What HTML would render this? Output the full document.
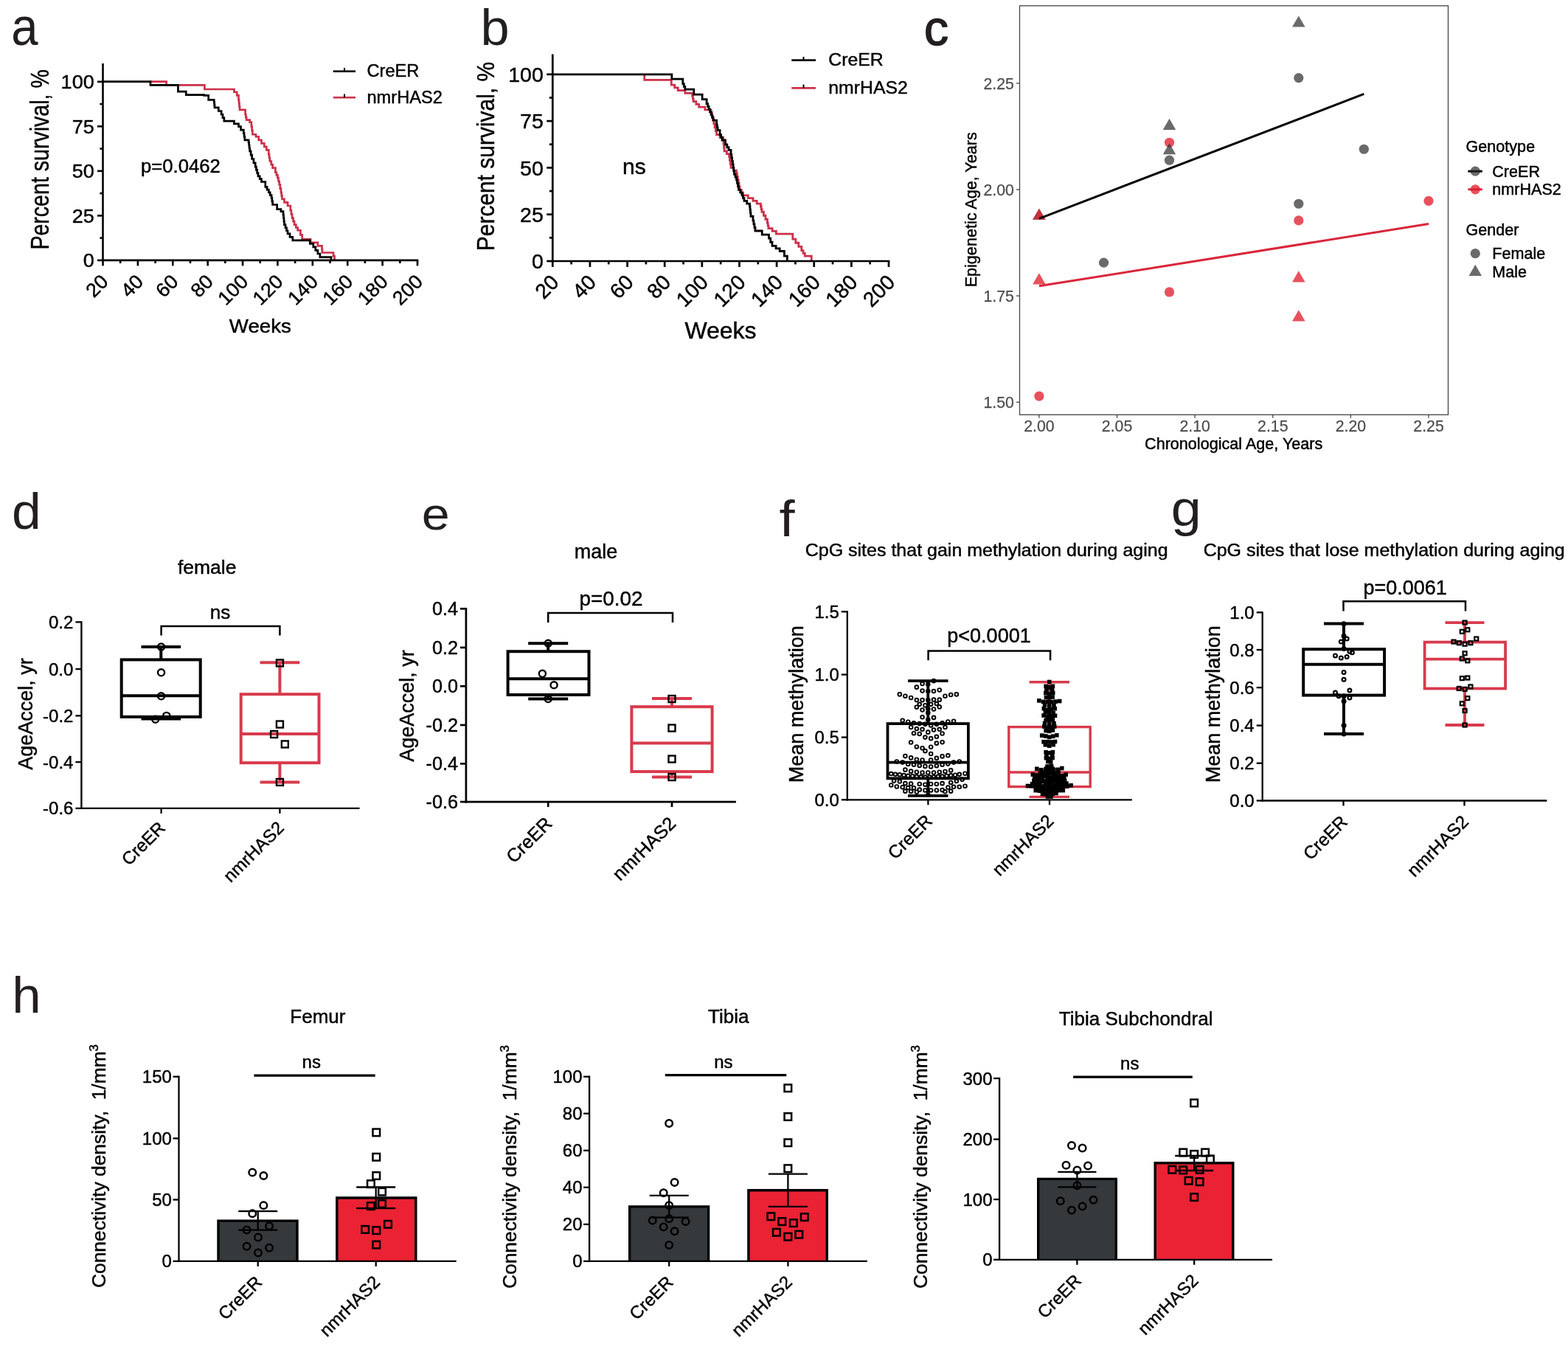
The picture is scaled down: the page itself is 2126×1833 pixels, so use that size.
<!DOCTYPE html>
<html lang="en">
<head>
<meta charset="utf-8">
<title>Figure: nmrHAS2 survival, epigenetic age and bone connectivity</title>
<style>
html,body{margin:0;padding:0;background:#fff;}
body{width:2126px;height:1833px;overflow:hidden;}
svg{display:block;font-family:"Liberation Sans",Arial,Helvetica,sans-serif;}
</style>
</head>
<body>
<svg width="2126" height="1833" viewBox="0 0 2126 1833">
<rect width="2126" height="1833" fill="#fff"/>
<text transform="translate(15.2 61.2) scale(0.915 1)" font-size="71.4" fill="#231f20">a</text>
<g fill="none" stroke-width="2.7" stroke-linejoin="miter">
<path d="M203.96 110.72H225.61V110.72H225.61V115.38H277.39V115.38H277.39V120.99H315.94V120.99H317.45V124.77H321.23V129.31H323.5V135.36H324.01V139.89H324.51V144.43H325.01V148.97H331.06V148.97H332.57V155.01H333.33V158.79H334.09V162.57H338.62V165.6H340.89V171.64H341.64V176.94H342.4V182.23H346.94V185.25H350.72V189.79H354.5V194.32H358.28V198.86H361.3V203.4H364.32V209.44H365.08V213.98H365.84V218.52H367.73V223.05H369.62V227.59H373.4V233.63H374.91V237.41H376.42V241.19H377.55V245.73H378.69V250.27H379.82V255.56H380.96V260.85H381.71V265.39H382.47V269.92H385.49V274.46H390.03V278.99H393.81V285.04H394.94V290.33H396.07V295.62H397.59V300.16H399.1V304.7H401.37V308.48H403.63V312.26H407.41V318.3H409.68V324.35H418.75V324.35H421.02V328.89H429.34V328.89H430.85V333.42H436.14V333.42H436.52V337.96H436.9V342.49H450.5V342.49H452.02V347.03H453.53V352.78" stroke="#cc304a"/>
<path d="M139.53 110.72H203.96V110.72H203.96V115.38H241.43V115.38H241.43V124.04H252.25V124.04H252.25V128.54H276.56V128.54H276.56V129.37H282.68V135.36H290.24V138.38H290.62V142.16H290.99V145.94H296.29V150.48H300.07V155.01H301.96V159.55H303.85V164.09H316.7V164.09H317.45V167.87H323.5V171.64H326.53V176.18H330.31V180.72H331.06V185.25H331.82V189.79H337.11V192.81H337.61V196.84H338.12V200.88H338.62V204.91H340.13V210.2H341.64V215.49H343.91V220.78H346.18V226.07H347.44V230.36H348.7V234.64H349.96V238.93H352.23V242.71H354.5V246.49H359.79V253.29H362.06V257.07H364.32V260.85H366.21V264.63H368.1V268.41H368.86V272.95H369.62V277.48H375.66V283.53H380.96V286.55H383.98V291.09H384.48V295.62H384.99V300.16H385.49V304.7H387V308.73H388.52V312.76H390.03V316.79H393.05V321.33H396.83V325.86H417.24V325.86H420.27V330.4H424.8V334.93H427.83V339.47H430.85V344.01H433.87V348.54H448.99V348.54H448.99V352.78" stroke="#000"/>
</g>
<line x1="139.5" y1="86" x2="139.5" y2="354.2" stroke="#000" stroke-width="2.6"/>
<line x1="138.2" y1="352.9" x2="567.3" y2="352.9" stroke="#000" stroke-width="2.6"/>
<line x1="132" y1="352.9" x2="139.5" y2="352.9" stroke="#000" stroke-width="2.6"/>
<line x1="135.38" y1="322.64" x2="139.5" y2="322.64" stroke="#000" stroke-width="2.6"/>
<line x1="132" y1="292.38" x2="139.5" y2="292.38" stroke="#000" stroke-width="2.6"/>
<line x1="135.38" y1="262.11" x2="139.5" y2="262.11" stroke="#000" stroke-width="2.6"/>
<line x1="132" y1="231.85" x2="139.5" y2="231.85" stroke="#000" stroke-width="2.6"/>
<line x1="135.38" y1="201.59" x2="139.5" y2="201.59" stroke="#000" stroke-width="2.6"/>
<line x1="132" y1="171.33" x2="139.5" y2="171.33" stroke="#000" stroke-width="2.6"/>
<line x1="135.38" y1="141.06" x2="139.5" y2="141.06" stroke="#000" stroke-width="2.6"/>
<line x1="132" y1="110.8" x2="139.5" y2="110.8" stroke="#000" stroke-width="2.6"/>
<text transform="translate(127.7 362.39) scale(1.020 1)" font-size="26.5" text-anchor="end" stroke="#000" stroke-width="0.45">0</text>
<text transform="translate(127.7 301.86) scale(1.020 1)" font-size="26.5" text-anchor="end" stroke="#000" stroke-width="0.45">25</text>
<text transform="translate(127.7 241.34) scale(1.020 1)" font-size="26.5" text-anchor="end" stroke="#000" stroke-width="0.45">50</text>
<text transform="translate(127.7 180.81) scale(1.020 1)" font-size="26.5" text-anchor="end" stroke="#000" stroke-width="0.45">75</text>
<text transform="translate(127.7 120.29) scale(1.020 1)" font-size="26.5" text-anchor="end" stroke="#000" stroke-width="0.45">100</text>
<line x1="139.5" y1="352.9" x2="139.5" y2="360.4" stroke="#000" stroke-width="2.6"/>
<text transform="translate(148.5 383.4) rotate(-45) scale(1.020 1)" font-size="26.5" text-anchor="end" stroke="#000" stroke-width="0.45">20</text>
<line x1="163.19" y1="352.9" x2="163.19" y2="357.02" stroke="#000" stroke-width="2.6"/>
<line x1="186.89" y1="352.9" x2="186.89" y2="360.4" stroke="#000" stroke-width="2.6"/>
<text transform="translate(195.89 383.4) rotate(-45) scale(1.020 1)" font-size="26.5" text-anchor="end" stroke="#000" stroke-width="0.45">40</text>
<line x1="210.58" y1="352.9" x2="210.58" y2="357.02" stroke="#000" stroke-width="2.6"/>
<line x1="234.28" y1="352.9" x2="234.28" y2="360.4" stroke="#000" stroke-width="2.6"/>
<text transform="translate(243.28 383.4) rotate(-45) scale(1.020 1)" font-size="26.5" text-anchor="end" stroke="#000" stroke-width="0.45">60</text>
<line x1="257.97" y1="352.9" x2="257.97" y2="357.02" stroke="#000" stroke-width="2.6"/>
<line x1="281.67" y1="352.9" x2="281.67" y2="360.4" stroke="#000" stroke-width="2.6"/>
<text transform="translate(290.67 383.4) rotate(-45) scale(1.020 1)" font-size="26.5" text-anchor="end" stroke="#000" stroke-width="0.45">80</text>
<line x1="305.36" y1="352.9" x2="305.36" y2="357.02" stroke="#000" stroke-width="2.6"/>
<line x1="329.06" y1="352.9" x2="329.06" y2="360.4" stroke="#000" stroke-width="2.6"/>
<text transform="translate(338.06 383.4) rotate(-45) scale(1.020 1)" font-size="26.5" text-anchor="end" stroke="#000" stroke-width="0.45">100</text>
<line x1="352.75" y1="352.9" x2="352.75" y2="357.02" stroke="#000" stroke-width="2.6"/>
<line x1="376.44" y1="352.9" x2="376.44" y2="360.4" stroke="#000" stroke-width="2.6"/>
<text transform="translate(385.44 383.4) rotate(-45) scale(1.020 1)" font-size="26.5" text-anchor="end" stroke="#000" stroke-width="0.45">120</text>
<line x1="400.14" y1="352.9" x2="400.14" y2="357.02" stroke="#000" stroke-width="2.6"/>
<line x1="423.83" y1="352.9" x2="423.83" y2="360.4" stroke="#000" stroke-width="2.6"/>
<text transform="translate(432.83 383.4) rotate(-45) scale(1.020 1)" font-size="26.5" text-anchor="end" stroke="#000" stroke-width="0.45">140</text>
<line x1="447.53" y1="352.9" x2="447.53" y2="357.02" stroke="#000" stroke-width="2.6"/>
<line x1="471.22" y1="352.9" x2="471.22" y2="360.4" stroke="#000" stroke-width="2.6"/>
<text transform="translate(480.22 383.4) rotate(-45) scale(1.020 1)" font-size="26.5" text-anchor="end" stroke="#000" stroke-width="0.45">160</text>
<line x1="494.92" y1="352.9" x2="494.92" y2="357.02" stroke="#000" stroke-width="2.6"/>
<line x1="518.61" y1="352.9" x2="518.61" y2="360.4" stroke="#000" stroke-width="2.6"/>
<text transform="translate(527.61 383.4) rotate(-45) scale(1.020 1)" font-size="26.5" text-anchor="end" stroke="#000" stroke-width="0.45">180</text>
<line x1="542.31" y1="352.9" x2="542.31" y2="357.02" stroke="#000" stroke-width="2.6"/>
<line x1="566" y1="352.9" x2="566" y2="360.4" stroke="#000" stroke-width="2.6"/>
<text transform="translate(575 383.4) rotate(-45) scale(1.020 1)" font-size="26.5" text-anchor="end" stroke="#000" stroke-width="0.45">200</text>
<text transform="translate(66.1 216.4) rotate(-90) scale(0.828 1)" font-size="34.5" text-anchor="middle" stroke="#000" stroke-width="0.45">Percent survival, %</text>
<text transform="translate(352.8 450.9) scale(1.072 1)" font-size="25.8" text-anchor="middle" stroke="#000" stroke-width="0.45">Weeks</text>
<text transform="translate(191 233.8)" font-size="25.7" stroke="#000" stroke-width="0.45">p=0.0462</text>
<line x1="451.7" y1="96.7" x2="482" y2="96.7" stroke="#000" stroke-width="2.6"/>
<line x1="467" y1="96.7" x2="467" y2="92" stroke="#000" stroke-width="2"/>
<text transform="translate(497.5 103.9)" font-size="23.6" stroke="#000" stroke-width="0.45">CreER</text>
<line x1="451.7" y1="132.2" x2="482" y2="132.2" stroke="#cc304a" stroke-width="2.6"/>
<line x1="467" y1="132.2" x2="467" y2="127.5" stroke="#000" stroke-width="2"/>
<text transform="translate(497.5 139.9)" font-size="23.6" stroke="#000" stroke-width="0.45">nmrHAS2</text>
<text transform="translate(651.4 61.4) scale(1.020 1)" font-size="69" fill="#231f20">b</text>
<g fill="none" stroke-width="2.8" stroke-linejoin="miter">
<path d="M873.74 100.84H873.74V108.32H910.25V115.2H914.73V118.94H919.22V122.68H928.95V126.42H938.67V130.16H939.42V133.9H940.17V137.64H943.91V141.38H947.65V145.12H955.88V148.86H964.11V152.6H965.35V157.59H966.6V162.58H967.85V167.56H969.09V172.55H970.34V177.54H971.59V182.53H976.07V186.27H980.56V190.01H981.06V194.99H981.56V199.98H982.06V204.97H985.35V208.71H988.64V212.45H989.44V217.43H990.24V222.42H991.04V227.41H994.78V231.15H998.52V234.89H999.41V239.38H1000.31V243.87H1001.21V248.35H1002.11V252.84H1003V257.33H1005.25V261.07H1007.49V264.81H1014.23V268.55H1020.96V272.29H1026.19V276.03H1031.43V279.77H1032.18V283.51H1032.93V287.25H1035.42V292.24H1037.91V297.23H1040.41V302.21H1041.15V305.95H1041.9V309.69H1047.14V313.44H1052.38V317.18H1074.82V324.06H1078.81V329.24H1082.8V334.43H1086.79V339.62H1089.03V343.36H1091.27V347.1H1100.25V353.98" stroke="#cc304a"/>
<path d="M749.26 100.84H910.84V107.12H925.8V113.7H927.3V117.44H928.8V121.18H940.77V128.07H952.14V134.65H958.12V140.63H959.62V144.37H961.11V148.11H962.61V151.86H964.11V155.6H965.6V159.34H967.1V163.08H971.59V169.06H972.33V172.8H973.08V176.54H976.07V182.53H977.57V186.27H979.07V190.01H983.55V195.99H985.8V199.73H988.04V203.47H991.04V209.46H991.83V213.94H992.63V218.43H993.43V222.92H994.13V227.41H994.83V231.9H995.52V236.39H997.02V240.13H998.52V243.87H999.51V248.35H1000.51V252.84H1001.51V257.33H1003.75V261.07H1006V264.81H1007.49V268.55H1008.99V272.29H1012.73V276.03H1016.47V279.77H1016.97V284.26H1017.47V288.75H1017.97V293.24H1020.96V299.22H1021.95V303.81H1022.95V308.4H1023.95V312.99H1033.23V318.07H1042.5V323.16H1044.75V328.25H1046.99V333.33H1052.08V336.92H1057.16V340.51H1063.45V347.1H1067.34V353.98" stroke="#000"/>
</g>
<line x1="749.3" y1="73.5" x2="749.3" y2="355.35" stroke="#000" stroke-width="2.7"/>
<line x1="747.95" y1="354" x2="1206.35" y2="354" stroke="#000" stroke-width="2.7"/>
<line x1="741.3" y1="354" x2="749.3" y2="354" stroke="#000" stroke-width="2.7"/>
<line x1="744.9" y1="322.35" x2="749.3" y2="322.35" stroke="#000" stroke-width="2.7"/>
<line x1="741.3" y1="290.7" x2="749.3" y2="290.7" stroke="#000" stroke-width="2.7"/>
<line x1="744.9" y1="259.05" x2="749.3" y2="259.05" stroke="#000" stroke-width="2.7"/>
<line x1="741.3" y1="227.4" x2="749.3" y2="227.4" stroke="#000" stroke-width="2.7"/>
<line x1="744.9" y1="195.75" x2="749.3" y2="195.75" stroke="#000" stroke-width="2.7"/>
<line x1="741.3" y1="164.1" x2="749.3" y2="164.1" stroke="#000" stroke-width="2.7"/>
<line x1="744.9" y1="132.45" x2="749.3" y2="132.45" stroke="#000" stroke-width="2.7"/>
<line x1="741.3" y1="100.8" x2="749.3" y2="100.8" stroke="#000" stroke-width="2.7"/>
<text transform="translate(736.8 364.2)" font-size="28.5" text-anchor="end" stroke="#000" stroke-width="0.45">0</text>
<text transform="translate(736.8 300.9)" font-size="28.5" text-anchor="end" stroke="#000" stroke-width="0.45">25</text>
<text transform="translate(736.8 237.6)" font-size="28.5" text-anchor="end" stroke="#000" stroke-width="0.45">50</text>
<text transform="translate(736.8 174.3)" font-size="28.5" text-anchor="end" stroke="#000" stroke-width="0.45">75</text>
<text transform="translate(736.8 111)" font-size="28.5" text-anchor="end" stroke="#000" stroke-width="0.45">100</text>
<line x1="749.3" y1="354" x2="749.3" y2="362" stroke="#000" stroke-width="2.7"/>
<text transform="translate(759.3 384.5) rotate(-45)" font-size="28.2" text-anchor="end" stroke="#000" stroke-width="0.45">20</text>
<line x1="774.62" y1="354" x2="774.62" y2="358.4" stroke="#000" stroke-width="2.7"/>
<line x1="799.93" y1="354" x2="799.93" y2="362" stroke="#000" stroke-width="2.7"/>
<text transform="translate(809.93 384.5) rotate(-45)" font-size="28.2" text-anchor="end" stroke="#000" stroke-width="0.45">40</text>
<line x1="825.25" y1="354" x2="825.25" y2="358.4" stroke="#000" stroke-width="2.7"/>
<line x1="850.57" y1="354" x2="850.57" y2="362" stroke="#000" stroke-width="2.7"/>
<text transform="translate(860.57 384.5) rotate(-45)" font-size="28.2" text-anchor="end" stroke="#000" stroke-width="0.45">60</text>
<line x1="875.88" y1="354" x2="875.88" y2="358.4" stroke="#000" stroke-width="2.7"/>
<line x1="901.2" y1="354" x2="901.2" y2="362" stroke="#000" stroke-width="2.7"/>
<text transform="translate(911.2 384.5) rotate(-45)" font-size="28.2" text-anchor="end" stroke="#000" stroke-width="0.45">80</text>
<line x1="926.52" y1="354" x2="926.52" y2="358.4" stroke="#000" stroke-width="2.7"/>
<line x1="951.83" y1="354" x2="951.83" y2="362" stroke="#000" stroke-width="2.7"/>
<text transform="translate(961.83 384.5) rotate(-45)" font-size="28.2" text-anchor="end" stroke="#000" stroke-width="0.45">100</text>
<line x1="977.15" y1="354" x2="977.15" y2="358.4" stroke="#000" stroke-width="2.7"/>
<line x1="1002.47" y1="354" x2="1002.47" y2="362" stroke="#000" stroke-width="2.7"/>
<text transform="translate(1012.47 384.5) rotate(-45)" font-size="28.2" text-anchor="end" stroke="#000" stroke-width="0.45">120</text>
<line x1="1027.78" y1="354" x2="1027.78" y2="358.4" stroke="#000" stroke-width="2.7"/>
<line x1="1053.1" y1="354" x2="1053.1" y2="362" stroke="#000" stroke-width="2.7"/>
<text transform="translate(1063.1 384.5) rotate(-45)" font-size="28.2" text-anchor="end" stroke="#000" stroke-width="0.45">140</text>
<line x1="1078.42" y1="354" x2="1078.42" y2="358.4" stroke="#000" stroke-width="2.7"/>
<line x1="1103.73" y1="354" x2="1103.73" y2="362" stroke="#000" stroke-width="2.7"/>
<text transform="translate(1113.73 384.5) rotate(-45)" font-size="28.2" text-anchor="end" stroke="#000" stroke-width="0.45">160</text>
<line x1="1129.05" y1="354" x2="1129.05" y2="358.4" stroke="#000" stroke-width="2.7"/>
<line x1="1154.37" y1="354" x2="1154.37" y2="362" stroke="#000" stroke-width="2.7"/>
<text transform="translate(1164.37 384.5) rotate(-45)" font-size="28.2" text-anchor="end" stroke="#000" stroke-width="0.45">180</text>
<line x1="1179.68" y1="354" x2="1179.68" y2="358.4" stroke="#000" stroke-width="2.7"/>
<line x1="1205" y1="354" x2="1205" y2="362" stroke="#000" stroke-width="2.7"/>
<text transform="translate(1215 384.5) rotate(-45)" font-size="28.2" text-anchor="end" stroke="#000" stroke-width="0.45">200</text>
<text transform="translate(669.8 212) rotate(-90) scale(0.897 1)" font-size="33.4" text-anchor="middle" stroke="#000" stroke-width="0.45">Percent survival, %</text>
<text transform="translate(977 459.3)" font-size="32" text-anchor="middle" stroke="#000" stroke-width="0.45">Weeks</text>
<text transform="translate(844 236.4)" font-size="30" stroke="#000" stroke-width="0.45">ns</text>
<line x1="1073.3" y1="81.7" x2="1106" y2="81.7" stroke="#000" stroke-width="2.7"/>
<line x1="1089.5" y1="81.7" x2="1089.5" y2="77" stroke="#000" stroke-width="2"/>
<text transform="translate(1123.3 89.1)" font-size="24.8" stroke="#000" stroke-width="0.45">CreER</text>
<line x1="1073.3" y1="119.4" x2="1106" y2="119.4" stroke="#cc304a" stroke-width="2.7"/>
<line x1="1089.5" y1="119.4" x2="1089.5" y2="114.6" stroke="#000" stroke-width="2"/>
<text transform="translate(1123.3 126.5)" font-size="24.8" stroke="#000" stroke-width="0.45">nmrHAS2</text>
<text transform="translate(1253 60.5)" font-size="66" fill="#231f20" stroke="#231f20" stroke-width="1.5" stroke-linejoin="round">c</text>
<line x1="1408.9" y1="562.3" x2="1408.9" y2="566.8" stroke="#333" stroke-width="1.2"/>
<text transform="translate(1408.9 585.1)" font-size="21.3" text-anchor="middle" fill="#4d4d4d" stroke="#4d4d4d" stroke-width="0.25">2.00</text>
<line x1="1514.52" y1="562.3" x2="1514.52" y2="566.8" stroke="#333" stroke-width="1.2"/>
<text transform="translate(1514.52 585.1)" font-size="21.3" text-anchor="middle" fill="#4d4d4d" stroke="#4d4d4d" stroke-width="0.25">2.05</text>
<line x1="1620.14" y1="562.3" x2="1620.14" y2="566.8" stroke="#333" stroke-width="1.2"/>
<text transform="translate(1620.14 585.1)" font-size="21.3" text-anchor="middle" fill="#4d4d4d" stroke="#4d4d4d" stroke-width="0.25">2.10</text>
<line x1="1725.76" y1="562.3" x2="1725.76" y2="566.8" stroke="#333" stroke-width="1.2"/>
<text transform="translate(1725.76 585.1)" font-size="21.3" text-anchor="middle" fill="#4d4d4d" stroke="#4d4d4d" stroke-width="0.25">2.15</text>
<line x1="1831.38" y1="562.3" x2="1831.38" y2="566.8" stroke="#333" stroke-width="1.2"/>
<text transform="translate(1831.38 585.1)" font-size="21.3" text-anchor="middle" fill="#4d4d4d" stroke="#4d4d4d" stroke-width="0.25">2.20</text>
<line x1="1937" y1="562.3" x2="1937" y2="566.8" stroke="#333" stroke-width="1.2"/>
<text transform="translate(1937 585.1)" font-size="21.3" text-anchor="middle" fill="#4d4d4d" stroke="#4d4d4d" stroke-width="0.25">2.25</text>
<line x1="1378" y1="545.2" x2="1382.5" y2="545.2" stroke="#333" stroke-width="1.2"/>
<text transform="translate(1374.9 552.8)" font-size="21.3" text-anchor="end" fill="#4d4d4d" stroke="#4d4d4d" stroke-width="0.25">1.50</text>
<line x1="1378" y1="401.1" x2="1382.5" y2="401.1" stroke="#333" stroke-width="1.2"/>
<text transform="translate(1374.9 408.7)" font-size="21.3" text-anchor="end" fill="#4d4d4d" stroke="#4d4d4d" stroke-width="0.25">1.75</text>
<line x1="1378" y1="257" x2="1382.5" y2="257" stroke="#333" stroke-width="1.2"/>
<text transform="translate(1374.9 264.6)" font-size="21.3" text-anchor="end" fill="#4d4d4d" stroke="#4d4d4d" stroke-width="0.25">2.00</text>
<line x1="1378" y1="112.9" x2="1382.5" y2="112.9" stroke="#333" stroke-width="1.2"/>
<text transform="translate(1374.9 120.5)" font-size="21.3" text-anchor="end" fill="#4d4d4d" stroke="#4d4d4d" stroke-width="0.25">2.25</text>
<circle cx="1496.56" cy="356.2" r="6.6" fill="#2b2b2b" fill-opacity="0.7"/>
<circle cx="1585.51" cy="217.22" r="6.6" fill="#2b2b2b" fill-opacity="0.7"/>
<circle cx="1760.82" cy="105.62" r="6.6" fill="#2b2b2b" fill-opacity="0.7"/>
<circle cx="1760.82" cy="276.23" r="6.6" fill="#2b2b2b" fill-opacity="0.7"/>
<circle cx="1849.34" cy="202.26" r="6.6" fill="#2b2b2b" fill-opacity="0.7"/>
<circle cx="1408.9" cy="537.07" r="6.6" fill="#e0202f" fill-opacity="0.78"/>
<circle cx="1585.51" cy="193.28" r="6.6" fill="#e0202f" fill-opacity="0.78"/>
<circle cx="1585.51" cy="395.96" r="6.6" fill="#e0202f" fill-opacity="0.78"/>
<circle cx="1760.82" cy="298.9" r="6.6" fill="#e0202f" fill-opacity="0.78"/>
<circle cx="1937" cy="272.39" r="6.6" fill="#e0202f" fill-opacity="0.78"/>
<path d="M1585.51 160.79L1594.26 175.95L1576.76 175.95Z" fill="#2b2b2b" fill-opacity="0.7"/>
<path d="M1585.51 194.14L1594.26 209.3L1576.76 209.3Z" fill="#2b2b2b" fill-opacity="0.7"/>
<path d="M1760.82 21.39L1769.57 36.55L1752.07 36.55Z" fill="#2b2b2b" fill-opacity="0.7"/>
<path d="M1408.9 282.66L1417.65 297.81L1400.15 297.81Z" fill="#2b2b2b" fill-opacity="0.7"/>
<path d="M1408.9 370.32L1417.65 385.47L1400.15 385.47Z" fill="#e0202f" fill-opacity="0.78"/>
<path d="M1760.82 367.33L1769.57 382.48L1752.07 382.48Z" fill="#e0202f" fill-opacity="0.78"/>
<path d="M1760.82 420.35L1769.57 435.5L1752.07 435.5Z" fill="#e0202f" fill-opacity="0.78"/>
<path d="M1408.9 282.66L1417.65 297.81L1400.15 297.81Z" fill="#e0202f" fill-opacity="0.78"/>
<line x1="1408.9" y1="296.33" x2="1849.34" y2="127.43" stroke="#000" stroke-width="3"/>
<line x1="1408.9" y1="387.84" x2="1937" y2="303.6" stroke="#d9263b" stroke-width="3"/>
<rect x="1382.5" y="7.8" width="581" height="554.5" fill="none" stroke="#444" stroke-width="1.3"/>
<text transform="translate(1672.7 609)" font-size="21.6" text-anchor="middle" stroke="#000" stroke-width="0.45">Chronological Age, Years</text>
<text transform="translate(1324 284.3) rotate(-90)" font-size="21.6" text-anchor="middle" stroke="#000" stroke-width="0.45">Epigenetic Age, Years</text>
<text transform="translate(1987.5 206)" font-size="21.6" stroke="#000" stroke-width="0.45">Genotype</text>
<line x1="1990.4" y1="232.2" x2="2009.8" y2="232.2" stroke="#000" stroke-width="3"/>
<circle cx="2000.3" cy="232.2" r="6.6" fill="#2b2b2b" fill-opacity="0.7"/>
<text transform="translate(2023.2 239.9)" font-size="21.6" stroke="#000" stroke-width="0.45">CreER</text>
<line x1="1990.4" y1="256.8" x2="2009.8" y2="256.8" stroke="#d9263b" stroke-width="3"/>
<circle cx="2000.3" cy="256.8" r="6.6" fill="#e0202f" fill-opacity="0.78"/>
<text transform="translate(2023.2 264.4)" font-size="21.6" stroke="#000" stroke-width="0.45">nmrHAS2</text>
<text transform="translate(1987.5 318.6)" font-size="21.6" stroke="#000" stroke-width="0.45">Gender</text>
<circle cx="2000.3" cy="343.7" r="6.6" fill="#2b2b2b" fill-opacity="0.7"/>
<text transform="translate(2023.2 351.3)" font-size="21.6" stroke="#000" stroke-width="0.45">Female</text>
<path d="M2000.3 358.8L2009.05 373.96L1991.55 373.96Z" fill="#2b2b2b" fill-opacity="0.7"/>
<text transform="translate(2023.2 376.3)" font-size="21.6" stroke="#000" stroke-width="0.45">Male</text>
<text transform="translate(16 717.1) scale(1.030 1)" font-size="69.4" fill="#231f20">d</text>
<text transform="translate(280.7 777.6)" font-size="26.5" text-anchor="middle" stroke="#000" stroke-width="0.45">female</text>
<line x1="110.4" y1="842.25" x2="110.4" y2="1097.05" stroke="#000" stroke-width="2.3"/>
<line x1="109.25" y1="1095.9" x2="487.6" y2="1095.9" stroke="#000" stroke-width="2.3"/>
<line x1="102.4" y1="843.4" x2="110.4" y2="843.4" stroke="#000" stroke-width="2.3"/>
<text transform="translate(99.4 851.99)" font-size="24" text-anchor="end" stroke="#000" stroke-width="0.45">0.2</text>
<line x1="102.4" y1="907.1" x2="110.4" y2="907.1" stroke="#000" stroke-width="2.3"/>
<text transform="translate(99.4 915.69)" font-size="24" text-anchor="end" stroke="#000" stroke-width="0.45">0.0</text>
<line x1="102.4" y1="970.4" x2="110.4" y2="970.4" stroke="#000" stroke-width="2.3"/>
<text transform="translate(99.4 978.99)" font-size="24" text-anchor="end" stroke="#000" stroke-width="0.45">-0.2</text>
<line x1="102.4" y1="1033.2" x2="110.4" y2="1033.2" stroke="#000" stroke-width="2.3"/>
<text transform="translate(99.4 1041.79)" font-size="24" text-anchor="end" stroke="#000" stroke-width="0.45">-0.4</text>
<line x1="102.4" y1="1095.9" x2="110.4" y2="1095.9" stroke="#000" stroke-width="2.3"/>
<text transform="translate(99.4 1104.49)" font-size="24" text-anchor="end" stroke="#000" stroke-width="0.45">-0.6</text>
<line x1="218.6" y1="1095.9" x2="218.6" y2="1102.9" stroke="#000" stroke-width="2.3"/>
<line x1="379.4" y1="1095.9" x2="379.4" y2="1102.9" stroke="#000" stroke-width="2.3"/>
<text transform="translate(225.6 1123.9) rotate(-45)" font-size="24" text-anchor="end" stroke="#000" stroke-width="0.45">CreER</text>
<text transform="translate(386.4 1123.9) rotate(-45)" font-size="24" text-anchor="end" stroke="#000" stroke-width="0.45">nmrHAS2</text>
<line x1="218.3" y1="876.9" x2="218.3" y2="894.4" stroke="#000" stroke-width="4"/>
<line x1="218.3" y1="971.9" x2="218.3" y2="974.4" stroke="#000" stroke-width="4"/>
<line x1="191.5" y1="876.9" x2="245.1" y2="876.9" stroke="#000" stroke-width="4"/>
<line x1="191.5" y1="974.4" x2="245.1" y2="974.4" stroke="#000" stroke-width="4"/>
<rect x="164.7" y="894.4" width="107" height="77.5" fill="none" stroke="#000" stroke-width="4"/>
<line x1="164.7" y1="943.2" x2="271.7" y2="943.2" stroke="#000" stroke-width="4"/>
<line x1="379.4" y1="898.3" x2="379.4" y2="941.2" stroke="#d83a4c" stroke-width="4"/>
<line x1="379.4" y1="1034.2" x2="379.4" y2="1060.4" stroke="#d83a4c" stroke-width="4"/>
<line x1="352.6" y1="898.3" x2="406.2" y2="898.3" stroke="#d83a4c" stroke-width="4"/>
<line x1="352.6" y1="1060.4" x2="406.2" y2="1060.4" stroke="#d83a4c" stroke-width="4"/>
<rect x="326.7" y="941.2" width="105.8" height="93" fill="none" stroke="#d83a4c" stroke-width="4"/>
<line x1="326.7" y1="994.9" x2="432.5" y2="994.9" stroke="#d83a4c" stroke-width="4"/>
<circle cx="218.56" cy="877" r="4.55" fill="none" stroke="#000" stroke-width="2.4"/>
<circle cx="218.56" cy="911.8" r="4.55" fill="none" stroke="#000" stroke-width="2.4"/>
<circle cx="218.56" cy="943.79" r="4.55" fill="none" stroke="#000" stroke-width="2.4"/>
<circle cx="225.78" cy="970.44" r="4.55" fill="none" stroke="#000" stroke-width="2.4"/>
<circle cx="210.72" cy="975.15" r="4.55" fill="none" stroke="#000" stroke-width="2.4"/>
<rect x="374.93" y="894.45" width="9" height="9" fill="none" stroke="#000" stroke-width="2.4"/>
<rect x="374.93" y="977.54" width="9" height="9" fill="none" stroke="#000" stroke-width="2.4"/>
<rect x="367.09" y="991.03" width="9" height="9" fill="none" stroke="#000" stroke-width="2.4"/>
<rect x="381.83" y="1004.51" width="9" height="9" fill="none" stroke="#000" stroke-width="2.4"/>
<rect x="374.93" y="1055.94" width="9" height="9" fill="none" stroke="#000" stroke-width="2.4"/>
<path d="M218.6 861.6V849.1H379.4V861.6" fill="none" stroke="#000" stroke-width="2.5" stroke-linejoin="miter"/>
<text transform="translate(298.5 838.7)" font-size="26" text-anchor="middle" stroke="#000" stroke-width="0.45">ns</text>
<text transform="translate(43.9 968) rotate(-90)" font-size="27" text-anchor="middle" stroke="#000" stroke-width="0.45">AgeAccel, yr</text>
<text transform="translate(571.8 718) scale(1.100 1)" font-size="62" fill="#231f20">e</text>
<text transform="translate(808.1 757.2)" font-size="27" text-anchor="middle" stroke="#000" stroke-width="0.45">male</text>
<line x1="631.9" y1="823.95" x2="631.9" y2="1088.45" stroke="#000" stroke-width="2.7"/>
<line x1="630.55" y1="1087.1" x2="997.9" y2="1087.1" stroke="#000" stroke-width="2.7"/>
<line x1="623.9" y1="825.3" x2="631.9" y2="825.3" stroke="#000" stroke-width="2.7"/>
<text transform="translate(620.9 834.32)" font-size="25.2" text-anchor="end" stroke="#000" stroke-width="0.45">0.4</text>
<line x1="623.9" y1="877.9" x2="631.9" y2="877.9" stroke="#000" stroke-width="2.7"/>
<text transform="translate(620.9 886.92)" font-size="25.2" text-anchor="end" stroke="#000" stroke-width="0.45">0.2</text>
<line x1="623.9" y1="930.3" x2="631.9" y2="930.3" stroke="#000" stroke-width="2.7"/>
<text transform="translate(620.9 939.32)" font-size="25.2" text-anchor="end" stroke="#000" stroke-width="0.45">0.0</text>
<line x1="623.9" y1="983" x2="631.9" y2="983" stroke="#000" stroke-width="2.7"/>
<text transform="translate(620.9 992.02)" font-size="25.2" text-anchor="end" stroke="#000" stroke-width="0.45">-0.2</text>
<line x1="623.9" y1="1035.4" x2="631.9" y2="1035.4" stroke="#000" stroke-width="2.7"/>
<text transform="translate(620.9 1044.42)" font-size="25.2" text-anchor="end" stroke="#000" stroke-width="0.45">-0.4</text>
<line x1="623.9" y1="1087.1" x2="631.9" y2="1087.1" stroke="#000" stroke-width="2.7"/>
<text transform="translate(620.9 1096.12)" font-size="25.2" text-anchor="end" stroke="#000" stroke-width="0.45">-0.6</text>
<line x1="743.2" y1="1087.1" x2="743.2" y2="1094.1" stroke="#000" stroke-width="2.7"/>
<line x1="911" y1="1087.1" x2="911" y2="1094.1" stroke="#000" stroke-width="2.7"/>
<text transform="translate(750.2 1118.1) rotate(-45)" font-size="25.2" text-anchor="end" stroke="#000" stroke-width="0.45">CreER</text>
<text transform="translate(918 1118.1) rotate(-45)" font-size="25.2" text-anchor="end" stroke="#000" stroke-width="0.45">nmrHAS2</text>
<line x1="743.2" y1="872.3" x2="743.2" y2="883.2" stroke="#000" stroke-width="4"/>
<line x1="743.2" y1="942" x2="743.2" y2="947.6" stroke="#000" stroke-width="4"/>
<line x1="716.2" y1="872.3" x2="770.2" y2="872.3" stroke="#000" stroke-width="4"/>
<line x1="716.2" y1="947.6" x2="770.2" y2="947.6" stroke="#000" stroke-width="4"/>
<rect x="688.6" y="883.2" width="109.9" height="58.8" fill="none" stroke="#000" stroke-width="4"/>
<line x1="688.6" y1="920.3" x2="798.5" y2="920.3" stroke="#000" stroke-width="4"/>
<line x1="911" y1="946.9" x2="911" y2="958.2" stroke="#d83a4c" stroke-width="4"/>
<line x1="911" y1="1046.1" x2="911" y2="1053.5" stroke="#d83a4c" stroke-width="4"/>
<line x1="884" y1="946.9" x2="938" y2="946.9" stroke="#d83a4c" stroke-width="4"/>
<line x1="884" y1="1053.5" x2="938" y2="1053.5" stroke="#d83a4c" stroke-width="4"/>
<rect x="856.4" y="958.2" width="109.2" height="87.9" fill="none" stroke="#d83a4c" stroke-width="4"/>
<line x1="856.4" y1="1007.4" x2="965.6" y2="1007.4" stroke="#d83a4c" stroke-width="4"/>
<circle cx="743.23" cy="872.29" r="4.55" fill="none" stroke="#000" stroke-width="2.4"/>
<circle cx="735.39" cy="913.37" r="4.55" fill="none" stroke="#000" stroke-width="2.4"/>
<circle cx="751.07" cy="928.74" r="4.55" fill="none" stroke="#000" stroke-width="2.4"/>
<circle cx="743.23" cy="947.55" r="4.55" fill="none" stroke="#000" stroke-width="2.4"/>
<rect x="906.5" y="943.05" width="9" height="9" fill="none" stroke="#000" stroke-width="2.4"/>
<rect x="906.5" y="982.56" width="9" height="9" fill="none" stroke="#000" stroke-width="2.4"/>
<rect x="906.5" y="1024.58" width="9" height="9" fill="none" stroke="#000" stroke-width="2.4"/>
<rect x="906.5" y="1049.04" width="9" height="9" fill="none" stroke="#000" stroke-width="2.4"/>
<path d="M743.2 844.1V830.9H912V844.1" fill="none" stroke="#000" stroke-width="2.5" stroke-linejoin="miter"/>
<text transform="translate(828.5 820.6)" font-size="27.9" text-anchor="middle" stroke="#000" stroke-width="0.45">p=0.02</text>
<text transform="translate(561.4 957) rotate(-90)" font-size="27" text-anchor="middle" stroke="#000" stroke-width="0.45">AgeAccel, yr</text>
<text transform="translate(1056.5 727.4) scale(1.120 1)" font-size="68" fill="#231f20">f</text>
<text transform="translate(1091.7 754) scale(1.042 1)" font-size="24" stroke="#000" stroke-width="0.45" id="tf">CpG sites that gain methylation during aging</text>
<line x1="1148.8" y1="828.15" x2="1148.8" y2="1085.45" stroke="#000" stroke-width="2.3"/>
<line x1="1147.65" y1="1084.3" x2="1534.8" y2="1084.3" stroke="#000" stroke-width="2.3"/>
<line x1="1140.8" y1="829.3" x2="1148.8" y2="829.3" stroke="#000" stroke-width="2.3"/>
<text transform="translate(1137.8 837.89)" font-size="24" text-anchor="end" stroke="#000" stroke-width="0.45">1.5</text>
<line x1="1140.8" y1="914.6" x2="1148.8" y2="914.6" stroke="#000" stroke-width="2.3"/>
<text transform="translate(1137.8 923.19)" font-size="24" text-anchor="end" stroke="#000" stroke-width="0.45">1.0</text>
<line x1="1140.8" y1="999.6" x2="1148.8" y2="999.6" stroke="#000" stroke-width="2.3"/>
<text transform="translate(1137.8 1008.19)" font-size="24" text-anchor="end" stroke="#000" stroke-width="0.45">0.5</text>
<line x1="1140.8" y1="1084.3" x2="1148.8" y2="1084.3" stroke="#000" stroke-width="2.3"/>
<text transform="translate(1137.8 1092.89)" font-size="24" text-anchor="end" stroke="#000" stroke-width="0.45">0.0</text>
<line x1="1258.4" y1="1084.3" x2="1258.4" y2="1091.3" stroke="#000" stroke-width="2.3"/>
<line x1="1423" y1="1084.3" x2="1423" y2="1091.3" stroke="#000" stroke-width="2.3"/>
<text transform="translate(1265.4 1114.6) rotate(-45)" font-size="24.3" text-anchor="end" stroke="#000" stroke-width="0.45">CreER</text>
<text transform="translate(1430 1114.6) rotate(-45)" font-size="24.3" text-anchor="end" stroke="#000" stroke-width="0.45">nmrHAS2</text>
<line x1="1258.3" y1="923.2" x2="1258.3" y2="981.1" stroke="#000" stroke-width="3.8"/>
<line x1="1258.3" y1="1055.3" x2="1258.3" y2="1078.8" stroke="#000" stroke-width="3.8"/>
<line x1="1231.05" y1="923.2" x2="1285.55" y2="923.2" stroke="#000" stroke-width="3.8"/>
<line x1="1231.05" y1="1078.8" x2="1285.55" y2="1078.8" stroke="#000" stroke-width="3.8"/>
<rect x="1203.5" y="981.1" width="109.4" height="74.2" fill="none" stroke="#000" stroke-width="3.8"/>
<line x1="1203.5" y1="1033.6" x2="1312.9" y2="1033.6" stroke="#000" stroke-width="3.8"/>
<g fill="none" stroke="#000" stroke-width="1.9">
<circle cx="1266.02" cy="923.17" r="2.35"/>
<circle cx="1250.58" cy="927.03" r="2.35"/>
<circle cx="1258.3" cy="927.8" r="2.35"/>
<circle cx="1242.86" cy="931.66" r="2.35"/>
<circle cx="1250.58" cy="936.6" r="2.35"/>
<circle cx="1258.3" cy="937.07" r="2.35"/>
<circle cx="1266.02" cy="937.07" r="2.35"/>
<circle cx="1273.75" cy="935.52" r="2.35"/>
<circle cx="1219.85" cy="941.39" r="2.35"/>
<circle cx="1227.41" cy="943.71" r="2.35"/>
<circle cx="1235.14" cy="946.02" r="2.35"/>
<circle cx="1242.86" cy="949.11" r="2.35"/>
<circle cx="1250.58" cy="949.11" r="2.35"/>
<circle cx="1258.3" cy="949.11" r="2.35"/>
<circle cx="1266.02" cy="948.65" r="2.35"/>
<circle cx="1273.75" cy="948.65" r="2.35"/>
<circle cx="1281.47" cy="943.71" r="2.35"/>
<circle cx="1289.19" cy="942.01" r="2.35"/>
<circle cx="1296.91" cy="941.39" r="2.35"/>
<circle cx="1246.72" cy="954.83" r="2.35"/>
<circle cx="1254.44" cy="956.37" r="2.35"/>
<circle cx="1262.16" cy="954.83" r="2.35"/>
<circle cx="1269.88" cy="954.05" r="2.35"/>
<circle cx="1242.86" cy="958.69" r="2.35"/>
<circle cx="1250.58" cy="962.55" r="2.35"/>
<circle cx="1258.3" cy="961" r="2.35"/>
<circle cx="1266.02" cy="961.47" r="2.35"/>
<circle cx="1273.75" cy="958.38" r="2.35"/>
<circle cx="1258.3" cy="966.41" r="2.35"/>
<circle cx="1250.58" cy="972.28" r="2.35"/>
<circle cx="1266.02" cy="972.9" r="2.35"/>
<circle cx="1258.3" cy="975.68" r="2.35"/>
<circle cx="1223.71" cy="976.76" r="2.35"/>
<circle cx="1231.27" cy="978.76" r="2.35"/>
<circle cx="1239" cy="980.31" r="2.35"/>
<circle cx="1246.72" cy="981.08" r="2.35"/>
<circle cx="1254.44" cy="981.85" r="2.35"/>
<circle cx="1262.16" cy="983.4" r="2.35"/>
<circle cx="1269.88" cy="981.85" r="2.35"/>
<circle cx="1277.61" cy="980.31" r="2.35"/>
<circle cx="1285.33" cy="978.46" r="2.35"/>
<circle cx="1293.05" cy="977.68" r="2.35"/>
<circle cx="1235.14" cy="986.02" r="2.35"/>
<circle cx="1242.86" cy="988.03" r="2.35"/>
<circle cx="1250.58" cy="988.8" r="2.35"/>
<circle cx="1258.3" cy="992.66" r="2.35"/>
<circle cx="1266.02" cy="989.58" r="2.35"/>
<circle cx="1273.75" cy="988.8" r="2.35"/>
<circle cx="1281.47" cy="986.02" r="2.35"/>
<circle cx="1239" cy="994.21" r="2.35"/>
<circle cx="1246.72" cy="994.98" r="2.35"/>
<circle cx="1254.44" cy="999.61" r="2.35"/>
<circle cx="1262.16" cy="1001.16" r="2.35"/>
<circle cx="1269.88" cy="998.84" r="2.35"/>
<circle cx="1277.61" cy="994.52" r="2.35"/>
<circle cx="1235.14" cy="1006.56" r="2.35"/>
<circle cx="1242.86" cy="1012.43" r="2.35"/>
<circle cx="1250.58" cy="1014.29" r="2.35"/>
<circle cx="1254.44" cy="1018.15" r="2.35"/>
<circle cx="1262.16" cy="1012.74" r="2.35"/>
<circle cx="1269.88" cy="1007.64" r="2.35"/>
<circle cx="1277.61" cy="1006.25" r="2.35"/>
<circle cx="1262.16" cy="1022.01" r="2.35"/>
<circle cx="1227.41" cy="1025.1" r="2.35"/>
<circle cx="1235.14" cy="1027.41" r="2.35"/>
<circle cx="1242.86" cy="1029.73" r="2.35"/>
<circle cx="1250.58" cy="1030.5" r="2.35"/>
<circle cx="1262.16" cy="1030.5" r="2.35"/>
<circle cx="1269.88" cy="1027.88" r="2.35"/>
<circle cx="1277.61" cy="1025.41" r="2.35"/>
<circle cx="1285.33" cy="1024.32" r="2.35"/>
<circle cx="1215.83" cy="1032.51" r="2.35"/>
<circle cx="1223.71" cy="1033.59" r="2.35"/>
<circle cx="1231.27" cy="1035.91" r="2.35"/>
<circle cx="1239" cy="1036.68" r="2.35"/>
<circle cx="1246.72" cy="1037.92" r="2.35"/>
<circle cx="1254.44" cy="1039" r="2.35"/>
<circle cx="1262.16" cy="1039.46" r="2.35"/>
<circle cx="1269.88" cy="1038.22" r="2.35"/>
<circle cx="1277.61" cy="1036.68" r="2.35"/>
<circle cx="1285.33" cy="1035.6" r="2.35"/>
<circle cx="1293.05" cy="1033.59" r="2.35"/>
<circle cx="1300.77" cy="1032.51" r="2.35"/>
<circle cx="1227.41" cy="1043.63" r="2.35"/>
<circle cx="1235.14" cy="1045.64" r="2.35"/>
<circle cx="1242.86" cy="1046.72" r="2.35"/>
<circle cx="1250.58" cy="1047.49" r="2.35"/>
<circle cx="1258.3" cy="1047.49" r="2.35"/>
<circle cx="1266.02" cy="1047.49" r="2.35"/>
<circle cx="1273.75" cy="1046.72" r="2.35"/>
<circle cx="1281.47" cy="1045.95" r="2.35"/>
<circle cx="1289.19" cy="1044.4" r="2.35"/>
<circle cx="1208.26" cy="1049.03" r="2.35"/>
<circle cx="1213.98" cy="1049.81" r="2.35"/>
<circle cx="1219.85" cy="1050.27" r="2.35"/>
<circle cx="1225.56" cy="1051.04" r="2.35"/>
<circle cx="1231.27" cy="1051.81" r="2.35"/>
<circle cx="1237.14" cy="1052.28" r="2.35"/>
<circle cx="1242.86" cy="1052.9" r="2.35"/>
<circle cx="1248.73" cy="1053.36" r="2.35"/>
<circle cx="1254.44" cy="1053.67" r="2.35"/>
<circle cx="1260.31" cy="1053.67" r="2.35"/>
<circle cx="1266.02" cy="1053.36" r="2.35"/>
<circle cx="1271.89" cy="1052.9" r="2.35"/>
<circle cx="1277.61" cy="1052.59" r="2.35"/>
<circle cx="1283.47" cy="1051.97" r="2.35"/>
<circle cx="1289.19" cy="1051.35" r="2.35"/>
<circle cx="1295.06" cy="1050.73" r="2.35"/>
<circle cx="1300.77" cy="1049.81" r="2.35"/>
<circle cx="1308.49" cy="1048.73" r="2.35"/>
<circle cx="1212.12" cy="1058.61" r="2.35"/>
<circle cx="1219.85" cy="1059.54" r="2.35"/>
<circle cx="1227.41" cy="1062.16" r="2.35"/>
<circle cx="1235.14" cy="1062.63" r="2.35"/>
<circle cx="1246.72" cy="1062.93" r="2.35"/>
<circle cx="1254.44" cy="1063.71" r="2.35"/>
<circle cx="1262.16" cy="1062.93" r="2.35"/>
<circle cx="1269.88" cy="1062.93" r="2.35"/>
<circle cx="1277.61" cy="1062.16" r="2.35"/>
<circle cx="1289.19" cy="1060.93" r="2.35"/>
<circle cx="1296.91" cy="1059.07" r="2.35"/>
<circle cx="1304.63" cy="1056.76" r="2.35"/>
<circle cx="1208.26" cy="1064.48" r="2.35"/>
<circle cx="1215.83" cy="1066.49" r="2.35"/>
<circle cx="1223.71" cy="1067.26" r="2.35"/>
<circle cx="1231.27" cy="1068.03" r="2.35"/>
<circle cx="1239" cy="1068.34" r="2.35"/>
<circle cx="1285.48" cy="1067.57" r="2.35"/>
<circle cx="1293.05" cy="1066.8" r="2.35"/>
<circle cx="1300.77" cy="1066.8" r="2.35"/>
<circle cx="1308.49" cy="1065.71" r="2.35"/>
<circle cx="1227.41" cy="1072.66" r="2.35"/>
<circle cx="1235.14" cy="1072.97" r="2.35"/>
<circle cx="1242.86" cy="1073.75" r="2.35"/>
<circle cx="1246.72" cy="1070.66" r="2.35"/>
<circle cx="1254.44" cy="1071.43" r="2.35"/>
<circle cx="1262.16" cy="1071.43" r="2.35"/>
<circle cx="1269.88" cy="1071.43" r="2.35"/>
<circle cx="1277.61" cy="1071.12" r="2.35"/>
<circle cx="1281.47" cy="1073.28" r="2.35"/>
<circle cx="1289.19" cy="1072.66" r="2.35"/>
<circle cx="1258.3" cy="1077.61" r="2.35"/>
</g>
<line x1="1422.8" y1="924.7" x2="1422.8" y2="985.6" stroke="#d83a4c" stroke-width="3.4"/>
<line x1="1422.8" y1="1066.6" x2="1422.8" y2="1080.4" stroke="#d83a4c" stroke-width="3.4"/>
<line x1="1395.55" y1="924.7" x2="1450.05" y2="924.7" stroke="#d83a4c" stroke-width="3.4"/>
<line x1="1395.55" y1="1080.4" x2="1450.05" y2="1080.4" stroke="#d83a4c" stroke-width="3.4"/>
<rect x="1367.8" y="985.6" width="110.4" height="81" fill="none" stroke="#d83a4c" stroke-width="3.4"/>
<line x1="1367.8" y1="1047" x2="1478.2" y2="1047" stroke="#d83a4c" stroke-width="3.4"/>
<g fill="#000">
<rect x="1419.98" y="921.69" width="5.6" height="5.6"/>
<rect x="1415.35" y="927.59" width="5.6" height="5.6"/>
<rect x="1419.98" y="929.05" width="5.6" height="5.6"/>
<rect x="1424.61" y="927.5" width="5.6" height="5.6"/>
<rect x="1416.12" y="932.84" width="5.6" height="5.6"/>
<rect x="1423.84" y="932.63" width="5.6" height="5.6"/>
<rect x="1415.04" y="936.69" width="5.6" height="5.6"/>
<rect x="1419.98" y="938.14" width="5.6" height="5.6"/>
<rect x="1424.92" y="936.67" width="5.6" height="5.6"/>
<rect x="1415.66" y="942.67" width="5.6" height="5.6"/>
<rect x="1419.98" y="943" width="5.6" height="5.6"/>
<rect x="1424.3" y="942.25" width="5.6" height="5.6"/>
<rect x="1406.08" y="947.11" width="5.6" height="5.6"/>
<rect x="1411.64" y="948.61" width="5.6" height="5.6"/>
<rect x="1417.2" y="948.74" width="5.6" height="5.6"/>
<rect x="1422.76" y="948.87" width="5.6" height="5.6"/>
<rect x="1428.32" y="948.37" width="5.6" height="5.6"/>
<rect x="1433.88" y="947.76" width="5.6" height="5.6"/>
<rect x="1413.8" y="953.33" width="5.6" height="5.6"/>
<rect x="1419.98" y="954.22" width="5.6" height="5.6"/>
<rect x="1426.16" y="953.82" width="5.6" height="5.6"/>
<rect x="1412.57" y="957.85" width="5.6" height="5.6"/>
<rect x="1417.51" y="959.75" width="5.6" height="5.6"/>
<rect x="1422.45" y="959.04" width="5.6" height="5.6"/>
<rect x="1427.39" y="957.97" width="5.6" height="5.6"/>
<rect x="1414.57" y="962.94" width="5.6" height="5.6"/>
<rect x="1419.98" y="964.14" width="5.6" height="5.6"/>
<rect x="1425.39" y="963.8" width="5.6" height="5.6"/>
<rect x="1412.26" y="967.23" width="5.6" height="5.6"/>
<rect x="1417.41" y="968.65" width="5.6" height="5.6"/>
<rect x="1422.55" y="968.72" width="5.6" height="5.6"/>
<rect x="1427.7" y="967.47" width="5.6" height="5.6"/>
<rect x="1415.35" y="973.65" width="5.6" height="5.6"/>
<rect x="1419.98" y="973.88" width="5.6" height="5.6"/>
<rect x="1424.61" y="973.04" width="5.6" height="5.6"/>
<rect x="1413.8" y="977.58" width="5.6" height="5.6"/>
<rect x="1419.98" y="979.28" width="5.6" height="5.6"/>
<rect x="1426.16" y="977.85" width="5.6" height="5.6"/>
<rect x="1413.03" y="982.21" width="5.6" height="5.6"/>
<rect x="1417.66" y="983.38" width="5.6" height="5.6"/>
<rect x="1422.3" y="983.21" width="5.6" height="5.6"/>
<rect x="1426.93" y="982.19" width="5.6" height="5.6"/>
<rect x="1415.35" y="987.85" width="5.6" height="5.6"/>
<rect x="1419.98" y="988.57" width="5.6" height="5.6"/>
<rect x="1424.61" y="987.17" width="5.6" height="5.6"/>
<rect x="1409.94" y="994.33" width="5.6" height="5.6"/>
<rect x="1414.96" y="995.17" width="5.6" height="5.6"/>
<rect x="1419.98" y="996.51" width="5.6" height="5.6"/>
<rect x="1425" y="995.42" width="5.6" height="5.6"/>
<rect x="1430.02" y="993.97" width="5.6" height="5.6"/>
<rect x="1412.26" y="1002.97" width="5.6" height="5.6"/>
<rect x="1417.41" y="1002.83" width="5.6" height="5.6"/>
<rect x="1422.55" y="1003.2" width="5.6" height="5.6"/>
<rect x="1427.7" y="1002.69" width="5.6" height="5.6"/>
<rect x="1414.57" y="1006.99" width="5.6" height="5.6"/>
<rect x="1419.98" y="1008.38" width="5.6" height="5.6"/>
<rect x="1425.39" y="1006.85" width="5.6" height="5.6"/>
<rect x="1415.35" y="1017.04" width="5.6" height="5.6"/>
<rect x="1419.98" y="1017.99" width="5.6" height="5.6"/>
<rect x="1424.61" y="1016.92" width="5.6" height="5.6"/>
<rect x="1416.12" y="1021.29" width="5.6" height="5.6"/>
<rect x="1423.84" y="1020.6" width="5.6" height="5.6"/>
<rect x="1415.66" y="1024.85" width="5.6" height="5.6"/>
<rect x="1419.98" y="1025.5" width="5.6" height="5.6"/>
<rect x="1424.3" y="1024.71" width="5.6" height="5.6"/>
<rect x="1418.13" y="1029.63" width="5.6" height="5.6"/>
<rect x="1421.83" y="1030.1" width="5.6" height="5.6"/>
<rect x="1417.2" y="1036.25" width="5.6" height="5.6"/>
<rect x="1422.76" y="1035.66" width="5.6" height="5.6"/>
<rect x="1415.35" y="1039.43" width="5.6" height="5.6"/>
<rect x="1419.98" y="1039.51" width="5.6" height="5.6"/>
<rect x="1424.61" y="1039.47" width="5.6" height="5.6"/>
<rect x="1402.99" y="1039.5" width="5.6" height="5.6"/>
<rect x="1408.65" y="1040.94" width="5.6" height="5.6"/>
<rect x="1414.32" y="1041.75" width="5.6" height="5.6"/>
<rect x="1419.98" y="1042.11" width="5.6" height="5.6"/>
<rect x="1425.64" y="1041.21" width="5.6" height="5.6"/>
<rect x="1431.31" y="1040.54" width="5.6" height="5.6"/>
<rect x="1436.97" y="1038.73" width="5.6" height="5.6"/>
<rect x="1407.62" y="1044.74" width="5.6" height="5.6"/>
<rect x="1412.57" y="1045.26" width="5.6" height="5.6"/>
<rect x="1417.51" y="1046.09" width="5.6" height="5.6"/>
<rect x="1422.45" y="1046.02" width="5.6" height="5.6"/>
<rect x="1427.39" y="1046" width="5.6" height="5.6"/>
<rect x="1432.34" y="1044.33" width="5.6" height="5.6"/>
<rect x="1397.59" y="1047.3" width="5.6" height="5.6"/>
<rect x="1402.56" y="1048.37" width="5.6" height="5.6"/>
<rect x="1407.54" y="1049.86" width="5.6" height="5.6"/>
<rect x="1412.52" y="1049.78" width="5.6" height="5.6"/>
<rect x="1417.49" y="1051.13" width="5.6" height="5.6"/>
<rect x="1422.47" y="1051.25" width="5.6" height="5.6"/>
<rect x="1427.44" y="1050.77" width="5.6" height="5.6"/>
<rect x="1432.42" y="1049.8" width="5.6" height="5.6"/>
<rect x="1437.4" y="1048.95" width="5.6" height="5.6"/>
<rect x="1442.37" y="1047.34" width="5.6" height="5.6"/>
<rect x="1399.9" y="1052.55" width="5.6" height="5.6"/>
<rect x="1404.92" y="1053.39" width="5.6" height="5.6"/>
<rect x="1409.94" y="1054.94" width="5.6" height="5.6"/>
<rect x="1414.96" y="1055.94" width="5.6" height="5.6"/>
<rect x="1419.98" y="1055.84" width="5.6" height="5.6"/>
<rect x="1425" y="1054.97" width="5.6" height="5.6"/>
<rect x="1430.02" y="1054.14" width="5.6" height="5.6"/>
<rect x="1435.04" y="1053.23" width="5.6" height="5.6"/>
<rect x="1440.06" y="1052.64" width="5.6" height="5.6"/>
<rect x="1399.13" y="1055.72" width="5.6" height="5.6"/>
<rect x="1404.34" y="1056.25" width="5.6" height="5.6"/>
<rect x="1409.56" y="1056.87" width="5.6" height="5.6"/>
<rect x="1414.77" y="1058.32" width="5.6" height="5.6"/>
<rect x="1419.98" y="1059.2" width="5.6" height="5.6"/>
<rect x="1425.19" y="1058.51" width="5.6" height="5.6"/>
<rect x="1430.4" y="1058.05" width="5.6" height="5.6"/>
<rect x="1435.62" y="1056.78" width="5.6" height="5.6"/>
<rect x="1440.83" y="1055.63" width="5.6" height="5.6"/>
<rect x="1396.81" y="1059.97" width="5.6" height="5.6"/>
<rect x="1401.96" y="1060.97" width="5.6" height="5.6"/>
<rect x="1407.11" y="1061.13" width="5.6" height="5.6"/>
<rect x="1412.26" y="1063.1" width="5.6" height="5.6"/>
<rect x="1417.41" y="1063.88" width="5.6" height="5.6"/>
<rect x="1422.55" y="1063.99" width="5.6" height="5.6"/>
<rect x="1427.7" y="1062.97" width="5.6" height="5.6"/>
<rect x="1432.85" y="1061.55" width="5.6" height="5.6"/>
<rect x="1438" y="1060.63" width="5.6" height="5.6"/>
<rect x="1443.15" y="1059.34" width="5.6" height="5.6"/>
<rect x="1390.64" y="1062.74" width="5.6" height="5.6"/>
<rect x="1395.97" y="1062.99" width="5.6" height="5.6"/>
<rect x="1401.31" y="1063.96" width="5.6" height="5.6"/>
<rect x="1406.64" y="1065.1" width="5.6" height="5.6"/>
<rect x="1411.98" y="1066" width="5.6" height="5.6"/>
<rect x="1417.31" y="1067.18" width="5.6" height="5.6"/>
<rect x="1422.65" y="1066.82" width="5.6" height="5.6"/>
<rect x="1427.98" y="1065.8" width="5.6" height="5.6"/>
<rect x="1433.32" y="1065.02" width="5.6" height="5.6"/>
<rect x="1438.65" y="1064" width="5.6" height="5.6"/>
<rect x="1443.99" y="1063.37" width="5.6" height="5.6"/>
<rect x="1449.32" y="1061.99" width="5.6" height="5.6"/>
<rect x="1401.45" y="1068.84" width="5.6" height="5.6"/>
<rect x="1406.74" y="1069.48" width="5.6" height="5.6"/>
<rect x="1412.04" y="1069.85" width="5.6" height="5.6"/>
<rect x="1417.33" y="1070.93" width="5.6" height="5.6"/>
<rect x="1422.63" y="1071.05" width="5.6" height="5.6"/>
<rect x="1427.92" y="1070.12" width="5.6" height="5.6"/>
<rect x="1433.22" y="1068.87" width="5.6" height="5.6"/>
<rect x="1438.51" y="1068.81" width="5.6" height="5.6"/>
<rect x="1410.71" y="1073.75" width="5.6" height="5.6"/>
<rect x="1415.35" y="1073.93" width="5.6" height="5.6"/>
<rect x="1419.98" y="1074.79" width="5.6" height="5.6"/>
<rect x="1424.61" y="1073.46" width="5.6" height="5.6"/>
<rect x="1429.25" y="1072.65" width="5.6" height="5.6"/>
<rect x="1417.66" y="1077.28" width="5.6" height="5.6"/>
<rect x="1422.3" y="1077.19" width="5.6" height="5.6"/>
</g>
<path d="M1258.6 895.2V882.6H1424.1V895.2" fill="none" stroke="#000" stroke-width="2.5" stroke-linejoin="miter"/>
<text transform="translate(1341 870.7)" font-size="27" text-anchor="middle" stroke="#000" stroke-width="0.45">p&lt;0.0001</text>
<text transform="translate(1088.6 954.7) rotate(-90)" font-size="27" text-anchor="middle" stroke="#000" stroke-width="0.45">Mean methylation</text>
<text transform="translate(1587.8 713) scale(1.070 1)" font-size="69" fill="#231f20">g</text>
<text transform="translate(1631.7 754) scale(1.041 1)" font-size="24" stroke="#000" stroke-width="0.45" id="tg">CpG sites that lose methylation during aging</text>
<line x1="1711.7" y1="829.15" x2="1711.7" y2="1086.65" stroke="#000" stroke-width="2.3"/>
<line x1="1710.55" y1="1085.5" x2="2097.4" y2="1085.5" stroke="#000" stroke-width="2.3"/>
<line x1="1703.7" y1="830.3" x2="1711.7" y2="830.3" stroke="#000" stroke-width="2.3"/>
<text transform="translate(1700.7 838.89)" font-size="24" text-anchor="end" stroke="#000" stroke-width="0.45">1.0</text>
<line x1="1703.7" y1="881" x2="1711.7" y2="881" stroke="#000" stroke-width="2.3"/>
<text transform="translate(1700.7 889.59)" font-size="24" text-anchor="end" stroke="#000" stroke-width="0.45">0.8</text>
<line x1="1703.7" y1="932.2" x2="1711.7" y2="932.2" stroke="#000" stroke-width="2.3"/>
<text transform="translate(1700.7 940.79)" font-size="24" text-anchor="end" stroke="#000" stroke-width="0.45">0.6</text>
<line x1="1703.7" y1="983.6" x2="1711.7" y2="983.6" stroke="#000" stroke-width="2.3"/>
<text transform="translate(1700.7 992.19)" font-size="24" text-anchor="end" stroke="#000" stroke-width="0.45">0.4</text>
<line x1="1703.7" y1="1034.7" x2="1711.7" y2="1034.7" stroke="#000" stroke-width="2.3"/>
<text transform="translate(1700.7 1043.29)" font-size="24" text-anchor="end" stroke="#000" stroke-width="0.45">0.2</text>
<line x1="1703.7" y1="1085.5" x2="1711.7" y2="1085.5" stroke="#000" stroke-width="2.3"/>
<text transform="translate(1700.7 1094.09)" font-size="24" text-anchor="end" stroke="#000" stroke-width="0.45">0.0</text>
<line x1="1821.5" y1="1085.5" x2="1821.5" y2="1092.5" stroke="#000" stroke-width="2.3"/>
<line x1="1985.5" y1="1085.5" x2="1985.5" y2="1092.5" stroke="#000" stroke-width="2.3"/>
<text transform="translate(1828.5 1115.8) rotate(-45)" font-size="24.3" text-anchor="end" stroke="#000" stroke-width="0.45">CreER</text>
<text transform="translate(1992.5 1115.8) rotate(-45)" font-size="24.3" text-anchor="end" stroke="#000" stroke-width="0.45">nmrHAS2</text>
<line x1="1822" y1="845.6" x2="1822" y2="880.2" stroke="#000" stroke-width="4"/>
<line x1="1822" y1="942.6" x2="1822" y2="994.9" stroke="#000" stroke-width="4"/>
<line x1="1795" y1="845.6" x2="1849" y2="845.6" stroke="#000" stroke-width="4"/>
<line x1="1795" y1="994.9" x2="1849" y2="994.9" stroke="#000" stroke-width="4"/>
<rect x="1767.2" y="880.2" width="109.9" height="62.4" fill="none" stroke="#000" stroke-width="4"/>
<line x1="1767.2" y1="900.8" x2="1877.1" y2="900.8" stroke="#000" stroke-width="4"/>
<line x1="1986" y1="844.1" x2="1986" y2="870.6" stroke="#d83a4c" stroke-width="3.8"/>
<line x1="1986" y1="933.5" x2="1986" y2="983" stroke="#d83a4c" stroke-width="3.8"/>
<line x1="1959.5" y1="844.1" x2="2012.5" y2="844.1" stroke="#d83a4c" stroke-width="3.8"/>
<line x1="1959.5" y1="983" x2="2012.5" y2="983" stroke="#d83a4c" stroke-width="3.8"/>
<rect x="1931.6" y="870.6" width="109.5" height="62.9" fill="none" stroke="#d83a4c" stroke-width="3.8"/>
<line x1="1931.6" y1="893.6" x2="2041.1" y2="893.6" stroke="#d83a4c" stroke-width="3.8"/>
<g fill="none" stroke="#000" stroke-width="2.2">
<circle cx="1822.08" cy="845.64" r="2.4"/>
<circle cx="1822.08" cy="862.26" r="2.4"/>
<circle cx="1826.16" cy="866.02" r="2.4"/>
<circle cx="1818.32" cy="870.1" r="2.4"/>
<circle cx="1822.08" cy="879.5" r="2.4"/>
<circle cx="1833.37" cy="884.84" r="2.4"/>
<circle cx="1829.92" cy="883.27" r="2.4"/>
<circle cx="1810.48" cy="888.91" r="2.4"/>
<circle cx="1818.32" cy="892.05" r="2.4"/>
<circle cx="1826.16" cy="890.48" r="2.4"/>
<circle cx="1822.08" cy="911.49" r="2.4"/>
<circle cx="1822.08" cy="921.21" r="2.4"/>
<circle cx="1829.92" cy="935.95" r="2.4"/>
<circle cx="1810.48" cy="939.08" r="2.4"/>
<circle cx="1815.18" cy="943.79" r="2.4"/>
<circle cx="1822.08" cy="943.79" r="2.4"/>
<circle cx="1829.92" cy="945.98" r="2.4"/>
<circle cx="1822.08" cy="950.69" r="2.4"/>
<circle cx="1822.08" cy="983.61" r="2.4"/>
<circle cx="1822.08" cy="994.9" r="2.4"/>
<rect x="1983.58" y="841.57" width="5" height="5"/>
<rect x="1987.35" y="851.29" width="5" height="5"/>
<rect x="1979.82" y="853.8" width="5" height="5"/>
<rect x="1999.26" y="863.52" width="5" height="5"/>
<rect x="1968.53" y="867.6" width="5" height="5"/>
<rect x="1975.74" y="869.17" width="5" height="5"/>
<rect x="1983.58" y="870.73" width="5" height="5"/>
<rect x="1991.42" y="869.17" width="5" height="5"/>
<rect x="1983.58" y="883.28" width="5" height="5"/>
<rect x="1979.82" y="890.49" width="5" height="5"/>
<rect x="1987.35" y="893.31" width="5" height="5"/>
<rect x="1979.82" y="917.14" width="5" height="5"/>
<rect x="1987.35" y="916.52" width="5" height="5"/>
<rect x="1991.42" y="928.43" width="5" height="5"/>
<rect x="1975.74" y="930.94" width="5" height="5"/>
<rect x="1983.58" y="931.88" width="5" height="5"/>
<rect x="1987.35" y="944.11" width="5" height="5"/>
<rect x="1979.82" y="951.32" width="5" height="5"/>
<rect x="1983.58" y="961.04" width="5" height="5"/>
<rect x="1983.58" y="980.49" width="5" height="5"/>
</g>
<path d="M1821.5 828.4V815.2H1987V828.4" fill="none" stroke="#000" stroke-width="2.5" stroke-linejoin="miter"/>
<text transform="translate(1905.2 805.8)" font-size="27" text-anchor="middle" stroke="#000" stroke-width="0.45">p=0.0061</text>
<text transform="translate(1653.7 954.7) rotate(-90)" font-size="27" text-anchor="middle" stroke="#000" stroke-width="0.45">Mean methylation</text>
<text transform="translate(16.2 1372.7) scale(1.020 1)" font-size="69.4" fill="#231f20">h</text>
<text transform="translate(430.9 1387.4)" font-size="26" text-anchor="middle" stroke="#000" stroke-width="0.45">Femur</text>
<path d="M296 1709.9V1655.1H403V1709.9" fill="#35393c" stroke="#000" stroke-width="3.4"/>
<path d="M456.8 1709.9V1624H563.8V1709.9" fill="#ea2234" stroke="#000" stroke-width="3.4"/>
<line x1="349.7" y1="1642.2" x2="349.7" y2="1667.6" stroke="#000" stroke-width="2.3"/>
<line x1="323.2" y1="1642.2" x2="376.2" y2="1642.2" stroke="#000" stroke-width="2.3"/>
<line x1="323.2" y1="1667.6" x2="376.2" y2="1667.6" stroke="#000" stroke-width="2.3"/>
<line x1="509.7" y1="1609.5" x2="509.7" y2="1638.2" stroke="#000" stroke-width="2.3"/>
<line x1="483.2" y1="1609.5" x2="536.2" y2="1609.5" stroke="#000" stroke-width="2.3"/>
<line x1="483.2" y1="1638.2" x2="536.2" y2="1638.2" stroke="#000" stroke-width="2.3"/>
<line x1="242.5" y1="1458.55" x2="242.5" y2="1711.05" stroke="#000" stroke-width="2.3"/>
<line x1="241.35" y1="1709.9" x2="618.7" y2="1709.9" stroke="#000" stroke-width="2.3"/>
<line x1="234.5" y1="1459.7" x2="242.5" y2="1459.7" stroke="#000" stroke-width="2.3"/>
<text transform="translate(232.9 1468.29)" font-size="24" text-anchor="end" stroke="#000" stroke-width="0.45">150</text>
<line x1="234.5" y1="1543.4" x2="242.5" y2="1543.4" stroke="#000" stroke-width="2.3"/>
<text transform="translate(232.9 1551.99)" font-size="24" text-anchor="end" stroke="#000" stroke-width="0.45">100</text>
<line x1="234.5" y1="1626.5" x2="242.5" y2="1626.5" stroke="#000" stroke-width="2.3"/>
<text transform="translate(232.9 1635.09)" font-size="24" text-anchor="end" stroke="#000" stroke-width="0.45">50</text>
<line x1="234.5" y1="1709.9" x2="242.5" y2="1709.9" stroke="#000" stroke-width="2.3"/>
<text transform="translate(232.9 1718.49)" font-size="24" text-anchor="end" stroke="#000" stroke-width="0.45">0</text>
<line x1="349.7" y1="1709.9" x2="349.7" y2="1716.9" stroke="#000" stroke-width="2.3"/>
<line x1="509.7" y1="1709.9" x2="509.7" y2="1716.9" stroke="#000" stroke-width="2.3"/>
<text transform="translate(356.7 1739.9) rotate(-45)" font-size="24" text-anchor="end" stroke="#000" stroke-width="0.45">CreER</text>
<text transform="translate(516.7 1739.9) rotate(-45)" font-size="24" text-anchor="end" stroke="#000" stroke-width="0.45">nmrHAS2</text>
<g fill="none" stroke="#000" stroke-width="2.5">
<circle cx="342.24" cy="1589.42" r="4.75"/>
<circle cx="357.37" cy="1594.05" r="4.75"/>
<circle cx="357.37" cy="1634.21" r="4.75"/>
<circle cx="342.24" cy="1645.33" r="4.75"/>
<circle cx="365.1" cy="1662.32" r="4.75"/>
<circle cx="334.52" cy="1667.57" r="4.75"/>
<circle cx="349.96" cy="1677.45" r="4.75"/>
<circle cx="334.52" cy="1689.81" r="4.75"/>
<circle cx="365.1" cy="1691.66" r="4.75"/>
<circle cx="349.96" cy="1698.46" r="4.75"/>
<rect x="505.47" y="1530.57" width="9.6" height="9.6"/>
<rect x="505.47" y="1563.93" width="9.6" height="9.6"/>
<rect x="505.47" y="1589.25" width="9.6" height="9.6"/>
<rect x="498.06" y="1600.37" width="9.6" height="9.6"/>
<rect x="513.19" y="1610.88" width="9.6" height="9.6"/>
<rect x="513.19" y="1627.25" width="9.6" height="9.6"/>
<rect x="498.06" y="1630.34" width="9.6" height="9.6"/>
<rect x="521.22" y="1655.05" width="9.6" height="9.6"/>
<rect x="490.34" y="1662.15" width="9.6" height="9.6"/>
<rect x="505.47" y="1663.39" width="9.6" height="9.6"/>
<rect x="505.47" y="1682.84" width="9.6" height="9.6"/>
</g>
<line x1="344.4" y1="1458.1" x2="508.7" y2="1458.1" stroke="#000" stroke-width="3.2"/>
<text transform="translate(422.2 1447.6)" font-size="24" text-anchor="middle" stroke="#000" stroke-width="0.45">ns</text>
<text transform="translate(142.7 1581) rotate(-90)" font-size="26.4" text-anchor="middle" stroke="#000" stroke-width="0.45" xml:space="preserve" style="white-space:pre">Connectivity density,  1/mm<tspan dy="-9.5" font-size="17">3</tspan></text>
<text transform="translate(987.8 1387.2)" font-size="26" text-anchor="middle" stroke="#000" stroke-width="0.45">Tibia</text>
<path d="M853.7 1709.9V1635.9H960.6V1709.9" fill="#35393c" stroke="#000" stroke-width="3.4"/>
<path d="M1014.9 1709.9V1613.7H1121.3V1709.9" fill="#ea2234" stroke="#000" stroke-width="3.4"/>
<line x1="907.2" y1="1620.9" x2="907.2" y2="1650.7" stroke="#000" stroke-width="2.3"/>
<line x1="880.7" y1="1620.9" x2="933.7" y2="1620.9" stroke="#000" stroke-width="2.3"/>
<line x1="880.7" y1="1650.7" x2="933.7" y2="1650.7" stroke="#000" stroke-width="2.3"/>
<line x1="1068.4" y1="1591.6" x2="1068.4" y2="1635.8" stroke="#000" stroke-width="2.3"/>
<line x1="1041.9" y1="1591.6" x2="1094.9" y2="1591.6" stroke="#000" stroke-width="2.3"/>
<line x1="1041.9" y1="1635.8" x2="1094.9" y2="1635.8" stroke="#000" stroke-width="2.3"/>
<line x1="799.1" y1="1458.55" x2="799.1" y2="1711.05" stroke="#000" stroke-width="2.3"/>
<line x1="797.95" y1="1709.9" x2="1175.8" y2="1709.9" stroke="#000" stroke-width="2.3"/>
<line x1="791.1" y1="1459.7" x2="799.1" y2="1459.7" stroke="#000" stroke-width="2.3"/>
<text transform="translate(789.5 1468.29)" font-size="24" text-anchor="end" stroke="#000" stroke-width="0.45">100</text>
<line x1="791.1" y1="1509.7" x2="799.1" y2="1509.7" stroke="#000" stroke-width="2.3"/>
<text transform="translate(789.5 1518.29)" font-size="24" text-anchor="end" stroke="#000" stroke-width="0.45">80</text>
<line x1="791.1" y1="1559.8" x2="799.1" y2="1559.8" stroke="#000" stroke-width="2.3"/>
<text transform="translate(789.5 1568.39)" font-size="24" text-anchor="end" stroke="#000" stroke-width="0.45">60</text>
<line x1="791.1" y1="1609.8" x2="799.1" y2="1609.8" stroke="#000" stroke-width="2.3"/>
<text transform="translate(789.5 1618.39)" font-size="24" text-anchor="end" stroke="#000" stroke-width="0.45">40</text>
<line x1="791.1" y1="1659.9" x2="799.1" y2="1659.9" stroke="#000" stroke-width="2.3"/>
<text transform="translate(789.5 1668.49)" font-size="24" text-anchor="end" stroke="#000" stroke-width="0.45">20</text>
<line x1="791.1" y1="1709.9" x2="799.1" y2="1709.9" stroke="#000" stroke-width="2.3"/>
<text transform="translate(789.5 1718.49)" font-size="24" text-anchor="end" stroke="#000" stroke-width="0.45">0</text>
<line x1="907.2" y1="1709.9" x2="907.2" y2="1716.9" stroke="#000" stroke-width="2.3"/>
<line x1="1068.4" y1="1709.9" x2="1068.4" y2="1716.9" stroke="#000" stroke-width="2.3"/>
<text transform="translate(914.2 1739.9) rotate(-45)" font-size="24" text-anchor="end" stroke="#000" stroke-width="0.45">CreER</text>
<text transform="translate(1075.4 1739.9) rotate(-45)" font-size="24" text-anchor="end" stroke="#000" stroke-width="0.45">nmrHAS2</text>
<g fill="none" stroke="#000" stroke-width="2.5">
<circle cx="907.16" cy="1522.99" r="4.75"/>
<circle cx="914.63" cy="1602.99" r="4.75"/>
<circle cx="899.7" cy="1617.31" r="4.75"/>
<circle cx="907.16" cy="1634.33" r="4.75"/>
<circle cx="907.16" cy="1652.24" r="4.75"/>
<circle cx="884.78" cy="1654.63" r="4.75"/>
<circle cx="929.55" cy="1656.12" r="4.75"/>
<circle cx="899.7" cy="1663.58" r="4.75"/>
<circle cx="914.63" cy="1669.25" r="4.75"/>
<circle cx="907.16" cy="1688.06" r="4.75"/>
<rect x="1063.56" y="1470.42" width="9.6" height="9.6"/>
<rect x="1063.56" y="1509.23" width="9.6" height="9.6"/>
<rect x="1063.56" y="1544.45" width="9.6" height="9.6"/>
<rect x="1063.56" y="1579.38" width="9.6" height="9.6"/>
<rect x="1040.57" y="1644.45" width="9.6" height="9.6"/>
<rect x="1085.95" y="1645.35" width="9.6" height="9.6"/>
<rect x="1055.5" y="1651.32" width="9.6" height="9.6"/>
<rect x="1071.02" y="1653.41" width="9.6" height="9.6"/>
<rect x="1048.04" y="1665.95" width="9.6" height="9.6"/>
<rect x="1078.48" y="1668.93" width="9.6" height="9.6"/>
<rect x="1063.56" y="1671.92" width="9.6" height="9.6"/>
</g>
<line x1="901.8" y1="1457.6" x2="1066.3" y2="1457.6" stroke="#000" stroke-width="3.2"/>
<text transform="translate(980.9 1448.4)" font-size="24" text-anchor="middle" stroke="#000" stroke-width="0.45">ns</text>
<text transform="translate(699.7 1582) rotate(-90)" font-size="26.4" text-anchor="middle" stroke="#000" stroke-width="0.45" xml:space="preserve" style="white-space:pre">Connectivity density,  1/mm<tspan dy="-9.5" font-size="17">3</tspan></text>
<text transform="translate(1540.1 1390.1)" font-size="26" text-anchor="middle" stroke="#000" stroke-width="0.45">Tibia Subchondral</text>
<path d="M1407.7 1707.8V1598.4H1513.3V1707.8" fill="#35393c" stroke="#000" stroke-width="3.4"/>
<path d="M1566.2 1707.8V1576.7H1671.8V1707.8" fill="#ea2234" stroke="#000" stroke-width="3.4"/>
<line x1="1460.4" y1="1588.8" x2="1460.4" y2="1609.4" stroke="#000" stroke-width="2.3"/>
<line x1="1434.4" y1="1588.8" x2="1486.4" y2="1588.8" stroke="#000" stroke-width="2.3"/>
<line x1="1434.4" y1="1609.4" x2="1486.4" y2="1609.4" stroke="#000" stroke-width="2.3"/>
<line x1="1619.2" y1="1567" x2="1619.2" y2="1587" stroke="#000" stroke-width="2.3"/>
<line x1="1593.2" y1="1567" x2="1645.2" y2="1567" stroke="#000" stroke-width="2.3"/>
<line x1="1593.2" y1="1587" x2="1645.2" y2="1587" stroke="#000" stroke-width="2.3"/>
<line x1="1355.1" y1="1460.85" x2="1355.1" y2="1708.95" stroke="#000" stroke-width="2.3"/>
<line x1="1353.95" y1="1707.8" x2="1725" y2="1707.8" stroke="#000" stroke-width="2.3"/>
<line x1="1347.1" y1="1462" x2="1355.1" y2="1462" stroke="#000" stroke-width="2.3"/>
<text transform="translate(1345.5 1470.59)" font-size="24" text-anchor="end" stroke="#000" stroke-width="0.45">300</text>
<line x1="1347.1" y1="1544.6" x2="1355.1" y2="1544.6" stroke="#000" stroke-width="2.3"/>
<text transform="translate(1345.5 1553.19)" font-size="24" text-anchor="end" stroke="#000" stroke-width="0.45">200</text>
<line x1="1347.1" y1="1626.1" x2="1355.1" y2="1626.1" stroke="#000" stroke-width="2.3"/>
<text transform="translate(1345.5 1634.69)" font-size="24" text-anchor="end" stroke="#000" stroke-width="0.45">100</text>
<line x1="1347.1" y1="1707.8" x2="1355.1" y2="1707.8" stroke="#000" stroke-width="2.3"/>
<text transform="translate(1345.5 1716.39)" font-size="24" text-anchor="end" stroke="#000" stroke-width="0.45">0</text>
<line x1="1460.4" y1="1707.8" x2="1460.4" y2="1714.8" stroke="#000" stroke-width="2.3"/>
<line x1="1619.2" y1="1707.8" x2="1619.2" y2="1714.8" stroke="#000" stroke-width="2.3"/>
<text transform="translate(1467.4 1737.8) rotate(-45)" font-size="24" text-anchor="end" stroke="#000" stroke-width="0.45">CreER</text>
<text transform="translate(1626.2 1737.8) rotate(-45)" font-size="24" text-anchor="end" stroke="#000" stroke-width="0.45">nmrHAS2</text>
<g fill="none" stroke="#000" stroke-width="2.5">
<circle cx="1452.98" cy="1552.98" r="4.75"/>
<circle cx="1467.6" cy="1556.56" r="4.75"/>
<circle cx="1445.53" cy="1579.83" r="4.75"/>
<circle cx="1475.06" cy="1580.43" r="4.75"/>
<circle cx="1460.44" cy="1586.4" r="4.75"/>
<circle cx="1460.44" cy="1607.28" r="4.75"/>
<circle cx="1437.77" cy="1628.16" r="4.75"/>
<circle cx="1482.52" cy="1626.67" r="4.75"/>
<circle cx="1467.6" cy="1635.62" r="4.75"/>
<circle cx="1452.98" cy="1640.69" r="4.75"/>
<rect x="1614.35" y="1490.61" width="9.6" height="9.6"/>
<rect x="1599.44" y="1557.73" width="9.6" height="9.6"/>
<rect x="1629.27" y="1557.73" width="9.6" height="9.6"/>
<rect x="1614.35" y="1560.12" width="9.6" height="9.6"/>
<rect x="1636.13" y="1566.68" width="9.6" height="9.6"/>
<rect x="1584.52" y="1581" width="9.6" height="9.6"/>
<rect x="1599.44" y="1581.6" width="9.6" height="9.6"/>
<rect x="1621.81" y="1581" width="9.6" height="9.6"/>
<rect x="1606.89" y="1595.92" width="9.6" height="9.6"/>
<rect x="1621.81" y="1597.41" width="9.6" height="9.6"/>
<rect x="1614.35" y="1618.29" width="9.6" height="9.6"/>
</g>
<line x1="1455.1" y1="1460.2" x2="1616.8" y2="1460.2" stroke="#000" stroke-width="3.2"/>
<text transform="translate(1531.7 1449.8)" font-size="24" text-anchor="middle" stroke="#000" stroke-width="0.45">ns</text>
<text transform="translate(1256.7 1582) rotate(-90)" font-size="26.4" text-anchor="middle" stroke="#000" stroke-width="0.45" xml:space="preserve" style="white-space:pre">Connectivity density,  1/mm<tspan dy="-9.5" font-size="17">3</tspan></text>
</svg>
</body>
</html>
